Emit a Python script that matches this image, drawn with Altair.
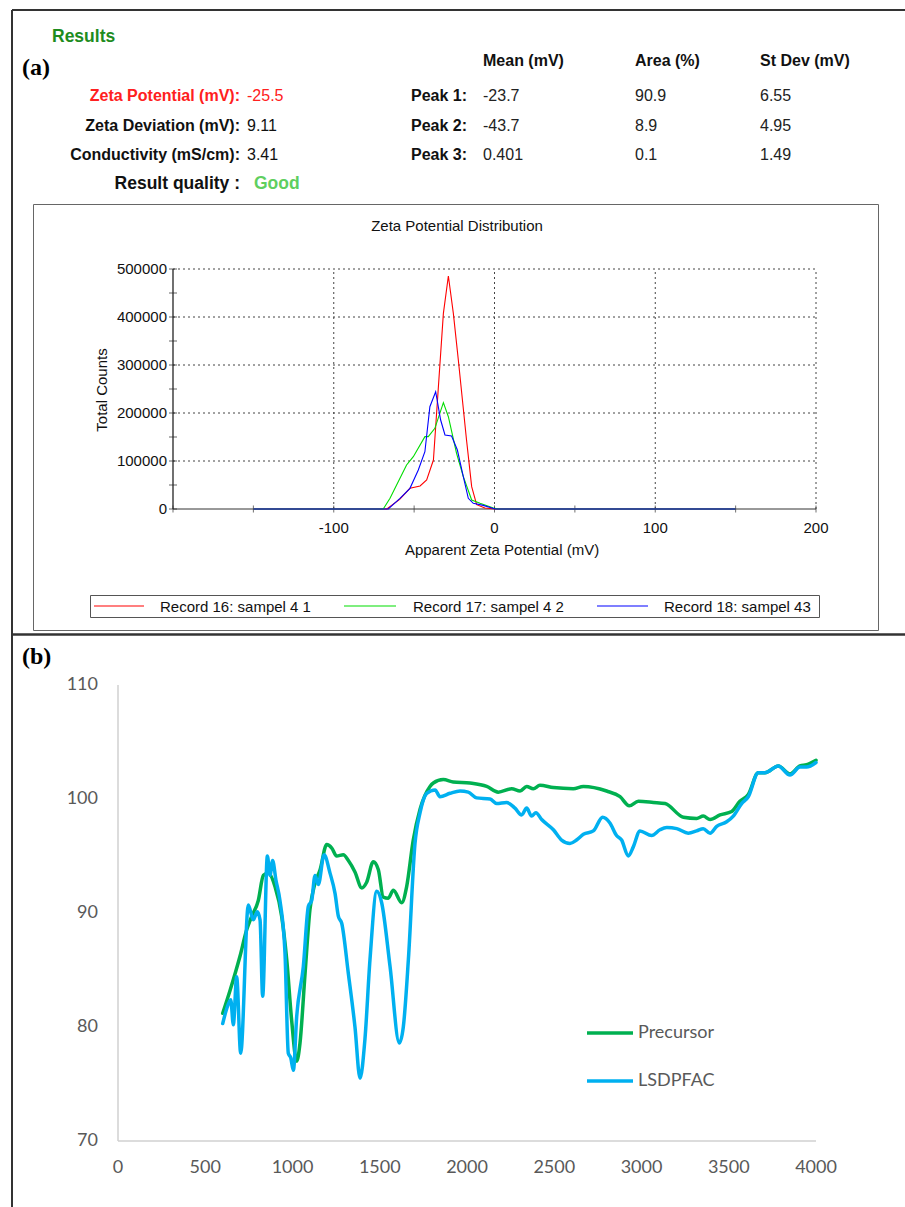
import altair as alt
import pandas as pd

# ---------------- data ----------------
summary_labels = ["Zeta Potential (mV):", "Zeta Deviation (mV):", "Conductivity  (mS/cm):"]
summary_values = ["-25.5", "9.11", "3.41"]
quality_label = "Result quality :"
quality_value = "Good"
peak_headers = ["Mean (mV)", "Area (%)", "St Dev (mV)"]
peak_names = ["Peak 1:", "Peak 2:", "Peak 3:"]
peak_mean = ["-23.7", "-43.7", "0.401"]
peak_area = ["90.9", "8.9", "0.1"]
peak_sd = ["6.55", "4.95", "1.49"]

dist_title = "Zeta Potential Distribution"
dist_xtitle = "Apparent Zeta Potential (mV)"
dist_ytitle = "Total Counts"
record_names = ["Record 16: sampel 4 1", "Record 17: sampel 4 2", "Record 18: sampel 43"]
record_colors = ["#ff0000", "#00dd00", "#0000ff"]

rec16_mv = [-150, -67.0, -59.0, -52.6, -46.3, -42.2, -38.0, -31.8, -28.7, -25.6, -22.5, -17.4, -14.2, -11.1, -6.0, 0.4, 150]
rec16_counts = [0, 0, 20000, 43100, 47900, 60400, 102000, 407600, 485400, 407600, 310400, 143700, 46500, 9000, 2000, 0, 0]
rec17_mv = [-150, -69.2, -65.0, -54.7, -50.5, -43.3, -41.2, -37.1, -31.8, -28.7, -23.6, -19.4, -14.2, -9.0, -0.7, 2.4, 150]
rec17_counts = [0, 0, 22200, 91700, 109000, 150700, 150700, 168100, 221500, 192300, 116000, 67300, 18700, 11800, 2000, 0, 0]
rec18_mv = [-150, -66.1, -58.8, -52.6, -47.4, -43.3, -40.2, -36.6, -33.5, -30.8, -26.7, -23.1, -19.4, -16.3, -13.2, -7.0, 0.4, 150]
rec18_counts = [0, 0, 22200, 43100, 81200, 119400, 213100, 244400, 185400, 154200, 152100, 122900, 67300, 22200, 11800, 7600, 0, 0]

dist_grid_mv = [-100, 0, 100, 200]
dist_grid_counts = [100000, 200000, 300000, 400000, 500000]
dist_tick_mv = [-200, -150, -100, -50, 0, 50, 100, 150, 200]
dist_tick_counts = [0, 50000, 100000, 150000, 200000, 250000, 300000, 350000, 400000, 450000, 500000]
dist_xlabels = [-100, 0, 100, 200]
dist_ylabels = [0, 100000, 200000, 300000, 400000, 500000]

ftir_names = ["Precursor", "LSDPFAC"]
ftir_colors = ["#00B050", "#00B0F0"]
pre_wn = [600, 642, 699, 737, 766, 804, 833, 861, 900, 938, 967, 995, 1024, 1043, 1072, 1100, 1129, 1158,
          1196, 1225, 1253, 1291, 1320, 1358, 1397, 1425, 1463, 1492, 1520, 1549, 1578, 1626, 1654, 1692,
          1731, 1788, 1807, 1864, 1921, 2017, 2113, 2179, 2256, 2304, 2342, 2380, 2418, 2495, 2609, 2667,
          2800, 2877, 2930, 2982, 3068, 3135, 3240, 3316, 3354, 3393, 3450, 3517, 3564, 3612, 3669, 3707,
          3784, 3851, 3908, 3946, 4000]
pre_t = [81.2, 83.2, 86.2, 88.5, 89.7, 91.1, 93.3, 93.5, 92.3, 89.7, 85.9, 80.6, 77.0, 78.6, 84.7, 90.3, 92.6, 93.8,
         96.0, 95.7, 95.0, 95.1, 94.6, 93.6, 92.2, 92.7, 94.5, 93.8, 91.4, 91.3, 92.0, 90.9, 92.3, 96.4,
         99.1, 101.1, 101.4, 101.7, 101.5, 101.4, 101.1, 100.6, 100.9, 100.7, 101.1, 100.9, 101.2, 101.0, 100.9, 101.1,
         100.7, 100.2, 99.4, 99.8, 99.7, 99.6, 98.4, 98.3, 98.5, 98.2, 98.6, 98.9, 99.8, 100.4, 102.3, 102.3,
         102.9, 102.2, 102.9, 103.0, 103.4]
lsd_wn = [600, 623, 646, 661, 680, 703, 747, 775, 798, 814, 829, 856, 871, 886, 905, 928, 957, 976, 990, 1005,
          1024, 1062, 1091, 1110, 1129, 1148, 1181, 1215, 1244, 1263, 1282, 1320, 1358, 1387, 1415, 1444, 1483,
          1511, 1559, 1612, 1635, 1664, 1702, 1731, 1769, 1817, 1845, 1903, 1960, 2007, 2055, 2132, 2170, 2227,
          2275, 2313, 2342, 2370, 2395, 2428, 2495, 2542, 2590, 2628, 2667, 2724, 2777, 2819, 2857, 2886, 2924,
          2953, 2991, 3058, 3106, 3145, 3202, 3268, 3316, 3354, 3393, 3431, 3488, 3526, 3574, 3612, 3669, 3707,
          3784, 3851, 3908, 3946, 4000]
lsd_t = [80.3, 81.6, 82.4, 80.2, 84.4, 77.7, 90.7, 89.4, 90.1, 89.4, 82.7, 95.0, 93.3, 94.6, 92.9, 91.1, 86.5, 77.7, 77.3, 76.2,
         80.9, 85.3, 90.6, 91.1, 93.3, 92.5, 95.1, 93.5, 91.7, 89.7, 89.1, 84.7, 80.0, 75.5, 78.9, 85.9, 91.9,
         90.9, 85.3, 78.6, 80.0, 85.9, 96.1, 98.8, 100.5, 100.8, 100.2, 100.5, 100.7, 100.6, 100.1, 100.0, 99.6, 99.7,
         99.2, 98.6, 99.2, 98.5, 98.8, 98.2, 97.3, 96.4, 96.1, 96.4, 96.9, 97.2, 98.4, 97.9, 96.8, 96.4, 95.0,
         95.8, 97.2, 96.8, 97.3, 97.5, 97.4, 97.0, 97.2, 97.4, 97.0, 97.6, 98.0, 98.5, 99.6, 100.2, 102.3, 102.3,
         102.9, 102.1, 102.8, 102.8, 103.2]
ftir_xticks = [0, 500, 1000, 1500, 2000, 2500, 3000, 3500, 4000]
ftir_yticks = [70, 80, 90, 100, 110]

# ---------------- helpers ----------------
W, H = 905, 1207
SANS = "Liberation Sans"
SERIF = "Liberation Serif"
XL = "Lato"
one = pd.DataFrame({"k": [0]})


def txt(s, x, y, size=15, color="#111111", weight="normal", align="left", font=SANS, angle=0):
    return alt.Chart(one).mark_text(
        text=s, fontSize=size, color=color, fontWeight=weight, align=align,
        baseline="middle", font=font, angle=angle
    ).encode(x=alt.value(x), y=alt.value(y))


def hline(x1, x2, y, color="#222222", width=1.0):
    return alt.Chart(one).mark_rule(color=color, strokeWidth=width).encode(
        x=alt.value(x1), x2=alt.value(x2), y=alt.value(y))


def vline(x, y1, y2, color="#222222", width=1.0):
    return alt.Chart(one).mark_rule(color=color, strokeWidth=width).encode(
        x=alt.value(x), y=alt.value(y1), y2=alt.value(y2))


def box(x1, x2, y1, y2, color="#555555"):
    return alt.Chart(one).mark_rect(fill="white", stroke=color, strokeWidth=1).encode(
        x=alt.value(x1), x2=alt.value(x2), y=alt.value(y1), y2=alt.value(y2))


layers = []

# frames
layers += [hline(12, W, 10, "#333333", 2), vline(12, 10, H, "#333333", 2), hline(12, W, 634.5, "#333333", 2.5)]
layers += [box(33.5, 878.5, 204.5, 630.5, "#666666")]
layers += [box(90.5, 819.5, 595.5, 617.5, "#555555")]

# header of panel (a)
layers += [txt("Results", 52, 37, 17.5, "#1e8c1e", "bold")]
layers += [txt("(a)", 22, 68, 24, "#000000", "bold", font=SERIF)]
col_x = [483, 635, 760]
for hx, h in zip(col_x, peak_headers):
    layers.append(txt(h, hx, 61, 16, "#111111", "bold"))
row_y = [96, 126, 155]
for i, (lab, val) in enumerate(zip(summary_labels, summary_values)):
    c = "#ff2020" if i == 0 else "#111111"
    layers.append(txt(lab, 240, row_y[i], 16, c, "bold", align="right"))
    layers.append(txt(val, 247, row_y[i], 16, c))
for i, pn in enumerate(peak_names):
    layers.append(txt(pn, 467, row_y[i], 16, "#111111", "bold", align="right"))
    for cx, arr in zip(col_x, [peak_mean, peak_area, peak_sd]):
        layers.append(txt(arr[i], cx, row_y[i], 16, "#222222"))
layers.append(txt(quality_label, 240, 184, 17.5, "#111111", "bold", align="right"))
layers.append(txt(quality_value, 254, 184, 17.5, "#5fcf5f", "bold"))

# distribution titles & legend
layers.append(txt(dist_title, 457, 226, 15, "#111111", align="center"))
layers.append(txt(dist_xtitle, 502, 550, 15, "#111111", align="center"))
layers.append(txt(dist_ytitle, 102, 390, 15, "#111111", align="center", angle=270))
leg_x = [(94, 144, 160), (344, 396, 413), (597, 648, 664)]
for (a, b, tx), name, col in zip(leg_x, record_names, record_colors):
    layers.append(hline(a, b, 606, col, 1.2))
    layers.append(txt(name, tx, 606.5, 15, "#111111"))

# panel (b) label & legend
layers.append(txt("(b)", 22, 657, 24, "#000000", "bold", font=SERIF))
for yy, name, col in zip([1033, 1081], ftir_names, ftir_colors):
    layers.append(hline(587, 633, yy, col, 3.5))
    layers.append(txt(name, 638, yy, 18, "#595959", font=XL))

# ---------------- distribution chart ----------------
zx_scale = alt.Scale(domain=[-200, 200], range=[173, 816], nice=False, zero=False)
zy_scale = alt.Scale(domain=[0, 500000], range=[509, 269], nice=False)


def ZX(f):
    return alt.X(f, scale=zx_scale, axis=None)


def ZY(f):
    return alt.Y(f, scale=zy_scale, axis=None)


dist_layers = []
dist_layers.append(alt.Chart(pd.DataFrame({"mv": dist_grid_mv})).mark_rule(
    color="#444444", strokeWidth=1, strokeDash=[2, 3]).encode(
    x=ZX("mv:Q"), y=alt.Y(datum=0, scale=zy_scale, axis=None), y2=alt.Y2(datum=500000)))
dist_layers.append(alt.Chart(pd.DataFrame({"counts": dist_grid_counts})).mark_rule(
    color="#444444", strokeWidth=1, strokeDash=[2, 3]).encode(
    y=ZY("counts:Q"), x=alt.X(datum=-200, scale=zx_scale, axis=None), x2=alt.X2(datum=200)))
# axis lines
dist_layers.append(alt.Chart(one).mark_rule(color="#333333", strokeWidth=1).encode(
    x=alt.X(datum=-200, scale=zx_scale, axis=None), x2=alt.X2(datum=200),
    y=alt.Y(datum=0, scale=zy_scale, axis=None)))
dist_layers.append(alt.Chart(one).mark_rule(color="#111111", strokeWidth=1.2).encode(
    x=alt.X(datum=-200, scale=zx_scale, axis=None),
    y=alt.Y(datum=0, scale=zy_scale, axis=None), y2=alt.Y2(datum=500000)))
# ticks
dist_layers.append(alt.Chart(pd.DataFrame({"mv": dist_tick_mv})).mark_tick(
    orient="vertical", size=7, thickness=1, color="#333333").encode(
    x=ZX("mv:Q"), y=alt.Y(datum=0, scale=zy_scale, axis=None)))
dist_layers.append(alt.Chart(pd.DataFrame({"counts": dist_tick_counts})).mark_tick(
    orient="horizontal", size=8, thickness=1, color="#222222").encode(
    y=ZY("counts:Q"), x=alt.X(datum=-200, scale=zx_scale, axis=None)))
# tick labels
dist_layers.append(alt.Chart(pd.DataFrame({"mv": dist_xlabels, "lab": [str(v) for v in dist_xlabels]})).mark_text(
    dy=19, align="center", baseline="middle", font=SANS, fontSize=15, color="#111111").encode(
    x=ZX("mv:Q"), y=alt.Y(datum=0, scale=zy_scale, axis=None), text="lab:N"))
dist_layers.append(alt.Chart(pd.DataFrame({"counts": dist_ylabels, "lab": [str(v) for v in dist_ylabels]})).mark_text(
    dx=-6, align="right", baseline="middle", font=SANS, fontSize=15, color="#111111").encode(
    y=ZY("counts:Q"), x=alt.X(datum=-200, scale=zx_scale, axis=None), text="lab:N"))
# curves
for i, (xs, ys) in enumerate([(rec16_mv, rec16_counts), (rec17_mv, rec17_counts), (rec18_mv, rec18_counts)]):
    df = pd.DataFrame({"mv": xs, "counts": ys})
    dist_layers.append(
        alt.Chart(df).mark_line(color=record_colors[i], strokeWidth=1.1).encode(
            x=ZX("mv:Q"), y=ZY("counts:Q")))
dist = alt.layer(*dist_layers)

# ---------------- FTIR chart ----------------
wn_scale = alt.Scale(domain=[0, 4000], range=[118, 816], nice=False, zero=False)
t_scale = alt.Scale(domain=[70, 110], range=[1141, 685], nice=False, zero=False)


def WX(f):
    return alt.X(f, scale=wn_scale, axis=None)


def TY(f):
    return alt.Y(f, scale=t_scale, axis=None)


ftir_layers = []
ftir_layers.append(alt.Chart(one).mark_rule(color="#d0d0d0", strokeWidth=1.5).encode(
    x=alt.X(datum=0, scale=wn_scale, axis=None), x2=alt.X2(datum=4000),
    y=alt.Y(datum=70, scale=t_scale, axis=None)))
ftir_layers.append(alt.Chart(one).mark_rule(color="#d0d0d0", strokeWidth=1.5).encode(
    x=alt.X(datum=0, scale=wn_scale, axis=None),
    y=alt.Y(datum=70, scale=t_scale, axis=None), y2=alt.Y2(datum=110)))
ftir_layers.append(alt.Chart(pd.DataFrame({"wn": ftir_xticks, "lab": [str(v) for v in ftir_xticks]})).mark_text(
    dy=27, align="center", baseline="middle", font=XL, fontSize=18, color="#595959").encode(
    x=WX("wn:Q"), y=alt.Y(datum=70, scale=t_scale, axis=None), text="lab:N"))
ftir_layers.append(alt.Chart(pd.DataFrame({"t": ftir_yticks, "lab": [str(v) for v in ftir_yticks]})).mark_text(
    dx=-20, align="right", baseline="middle", font=XL, fontSize=18, color="#595959").encode(
    y=TY("t:Q"), x=alt.X(datum=0, scale=wn_scale, axis=None), text="lab:N"))
for i, (xs, ys) in enumerate([(pre_wn, pre_t), (lsd_wn, lsd_t)]):
    df = pd.DataFrame({"wn": xs, "t": ys})
    ftir_layers.append(
        alt.Chart(df).mark_line(color=ftir_colors[i], strokeWidth=3.5, interpolate="monotone",
                                strokeCap="round", strokeJoin="round").encode(
            x=WX("wn:Q"), y=TY("t:Q")))
ftir = alt.layer(*ftir_layers)

chart = alt.layer(*layers, dist, ftir).resolve_scale(
    x="independent", y="independent").properties(
    width=W, height=H, padding=0, autosize=alt.AutoSizeParams(type="none")
).configure_view(stroke=None)

chart.save("out.html", embed_options={"renderer": "svg", "actions": False})
